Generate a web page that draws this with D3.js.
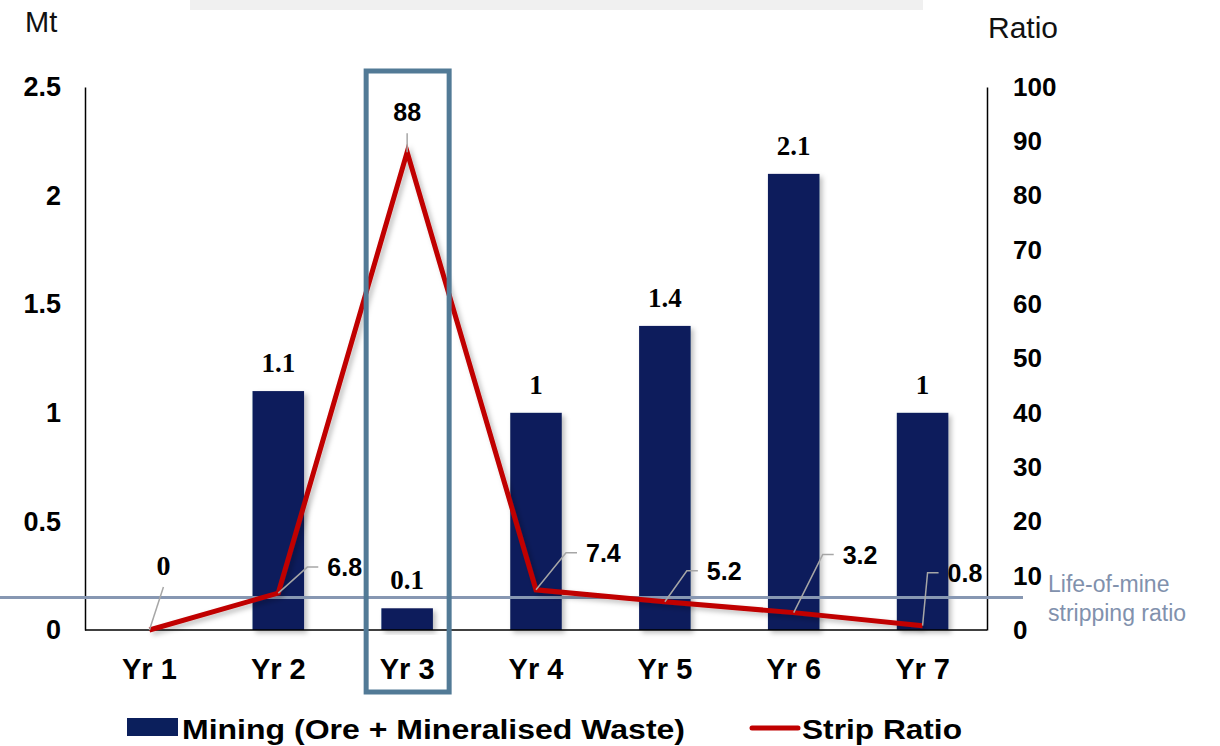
<!DOCTYPE html>
<html>
<head>
<meta charset="utf-8">
<script src="https://cdn.jsdelivr.net/npm/d3@7"></script>
<style>
  html, body { margin: 0; padding: 0; background: #fff; }
  svg { display: block; font-family: "Liberation Sans", Arial, sans-serif; }
</style>
</head>
<body>
<svg id="chart" width="1220" height="746"></svg>
<script>
// ── Data ──────────────────────────────────────────────────────────────────────
const years      = ['Yr 1', 'Yr 2', 'Yr 3', 'Yr 4', 'Yr 5', 'Yr 6', 'Yr 7']
const mining     = [0, 1.1, 0.1, 1, 1.4, 2.1, 1]          // Mt
const stripRatio = [0, 6.8, 88, 7.4, 5.2, 3.2, 0.8]       // ratio
const lomRatio   = 6
const leftTicks  = [0, 0.5, 1, 1.5, 2, 2.5]
const rightTicks = [0, 10, 20, 30, 40, 50, 60, 70, 80, 90, 100]
const highlight  = 'Yr 3'

// leader-line elbows for the strip ratio labels (px, relative to the point)
const leaders = [[14, -43], [29, -26], [0, -19], [30, -37], [22, -31], [29, -58], [5, -53]]

// ── Layout ────────────────────────────────────────────────────────────────────
const L = 85, R = 987, T = 87, B = 630
const NAVY = '#0b1f5c', RED = '#c00000', LOM = '#8797b2'
const SANS = '"Liberation Sans", Arial, sans-serif'
const SERIF = '"Liberation Serif", "Times New Roman", serif'

const svg = d3.select('#chart')

const defs = svg.append('defs')
const shadow = defs.append('filter').attr('id', 'shadow')
  .attr('x', '-30%').attr('y', '-10%').attr('width', '160%').attr('height', '130%')
shadow.append('feDropShadow')
  .attr('dx', 3).attr('dy', 3).attr('stdDeviation', 2.5)
  .attr('flood-color', '#000').attr('flood-opacity', 0.25)

const x = d3.scaleBand().domain(years).range([L, R]).paddingInner(0.6).paddingOuter(0.3)
const yL = d3.scaleLinear().domain([0, 2.5]).range([B, T])
const yR = d3.scaleLinear().domain([0, 100]).range([B, T])
const cx = d => x(d) + x.bandwidth() / 2

// grey strip at top
svg.append('rect').attr('x', 190).attr('y', 0).attr('width', 733).attr('height', 10).attr('fill', '#f0f0f0')

// axis titles
svg.append('text').attr('x', 25).attr('y', 32).attr('font-size', 29).attr('fill', '#111').text('Mt')
svg.append('text').attr('x', 988).attr('y', 38).attr('font-size', 30).attr('fill', '#111').text('Ratio')

// ── Bars ──────────────────────────────────────────────────────────────────────
svg.append('g').selectAll('rect').data(mining).join('rect')
  .attr('x', (d, i) => x(years[i]))
  .attr('y', d => yL(d))
  .attr('width', x.bandwidth())
  .attr('height', d => B - yL(d))
  .attr('fill', NAVY)
  .attr('filter', 'url(#shadow)')

// ── Axes ──────────────────────────────────────────────────────────────────────
const axL = svg.append('g').attr('transform', `translate(${L},0)`)
  .call(d3.axisLeft(yL).tickValues(leftTicks).tickSize(0).tickPadding(24).tickFormat(d3.format('')))
const axR = svg.append('g').attr('transform', `translate(${R},0)`)
  .call(d3.axisRight(yR).tickValues(rightTicks).tickSize(0).tickPadding(26))
const axB = svg.append('g').attr('transform', `translate(0,${B})`)
  .call(d3.axisBottom(x).tickSize(0).tickPadding(26))
for (const ax of [axL, axR, axB]) {
  ax.attr('font-family', null).attr('font-size', null)
  ax.select('.domain').attr('stroke', '#000').attr('stroke-width', 1.5)
  ax.selectAll('text').style('font-family', SANS)
    .attr('font-weight', 'bold').attr('fill', '#000')
}
axL.selectAll('text').attr('font-size', 27)
axR.selectAll('text').attr('font-size', 26)
axB.selectAll('text').attr('font-size', 29).attr('dy', '0.78em')
axB.select('.domain').attr('d', `M${L},0H${R}`)

// life-of-mine stripping ratio
svg.append('line').attr('x1', 0).attr('x2', 1023)
  .attr('y1', yR(lomRatio)).attr('y2', yR(lomRatio))
  .attr('stroke', LOM).attr('stroke-width', 3)
const lomText = svg.append('text').attr('x', 1048).attr('y', 592)
  .attr('font-size', 23).attr('fill', '#8191ad')
lomText.append('tspan').attr('x', 1048).text('Life-of-mine')
lomText.append('tspan').attr('x', 1048).attr('dy', 29).text('stripping ratio')

// ── Strip ratio line ──────────────────────────────────────────────────────────
const pts = stripRatio.map((v, i) => [cx(years[i]), yR(v)])
svg.append('path')
  .attr('d', d3.line()(pts))
  .attr('fill', 'none').attr('stroke', RED).attr('stroke-width', 5)
  .attr('stroke-linejoin', 'miter').attr('filter', 'url(#shadow)')

// leader lines + labels
const lbl = svg.append('g')
stripRatio.forEach((v, i) => {
  const [px, py] = pts[i]
  const [dx, dy] = leaders[i]
  const ex = px + dx, ey = py + dy
  if (dx === 0 || i === 0) {
    lbl.append('path').attr('d', `M${px},${py}L${ex},${ey}`)
      .attr('stroke', '#a6a6a6').attr('stroke-width', 1.5).attr('fill', 'none')
    lbl.append('text').attr('x', ex).attr('y', ey - 12).attr('text-anchor', 'middle')
      .attr('font-size', i === 0 ? 28 : 25).attr('font-weight', 'bold')
      .style('font-family', i === 0 ? SERIF : SANS)
      .text(v)
  } else {
    lbl.append('path').attr('d', `M${px},${py}L${ex},${ey}H${ex + 11}`)
      .attr('stroke', '#a6a6a6').attr('stroke-width', 1.5).attr('fill', 'none')
    lbl.append('text').attr('x', ex + 20).attr('y', ey + 9)
      .attr('font-size', 25).attr('font-weight', 'bold').text(v)
  }
})

// bar value labels
svg.append('g').selectAll('text').data(mining.map((v, i) => ({ v, yr: years[i] })).filter(d => d.v > 0))
  .join('text')
  .attr('x', d => cx(d.yr))
  .attr('y', d => yL(d.v) - 19)
  .attr('text-anchor', 'middle')
  .style('font-family', SERIF)
  .attr('font-weight', 'bold').attr('font-size', 27)
  .text(d => d.v)

// highlight box for Yr 3
svg.append('rect')
  .attr('x', cx(highlight) - 41).attr('y', 71)
  .attr('width', 83).attr('height', 621)
  .attr('fill', 'none').attr('stroke', '#527a96').attr('stroke-width', 5)

// ── Legend ────────────────────────────────────────────────────────────────────
const lg = svg.append('g')
lg.append('rect').attr('x', 127).attr('y', 718).attr('width', 51).attr('height', 18).attr('fill', NAVY)
lg.append('text').attr('x', 182).attr('y', 739).attr('font-size', 28).attr('font-weight', 'bold')
  .attr('textLength', 503).attr('lengthAdjust', 'spacingAndGlyphs')
  .text('Mining (Ore + Mineralised Waste)')
lg.append('line').attr('x1', 752).attr('x2', 798).attr('y1', 728).attr('y2', 728)
  .attr('stroke', RED).attr('stroke-width', 5).attr('stroke-linecap', 'round')
lg.append('text').attr('x', 802).attr('y', 739).attr('font-size', 28).attr('font-weight', 'bold')
  .attr('textLength', 160).attr('lengthAdjust', 'spacingAndGlyphs')
  .text('Strip Ratio')
</script>
</body>
</html>
